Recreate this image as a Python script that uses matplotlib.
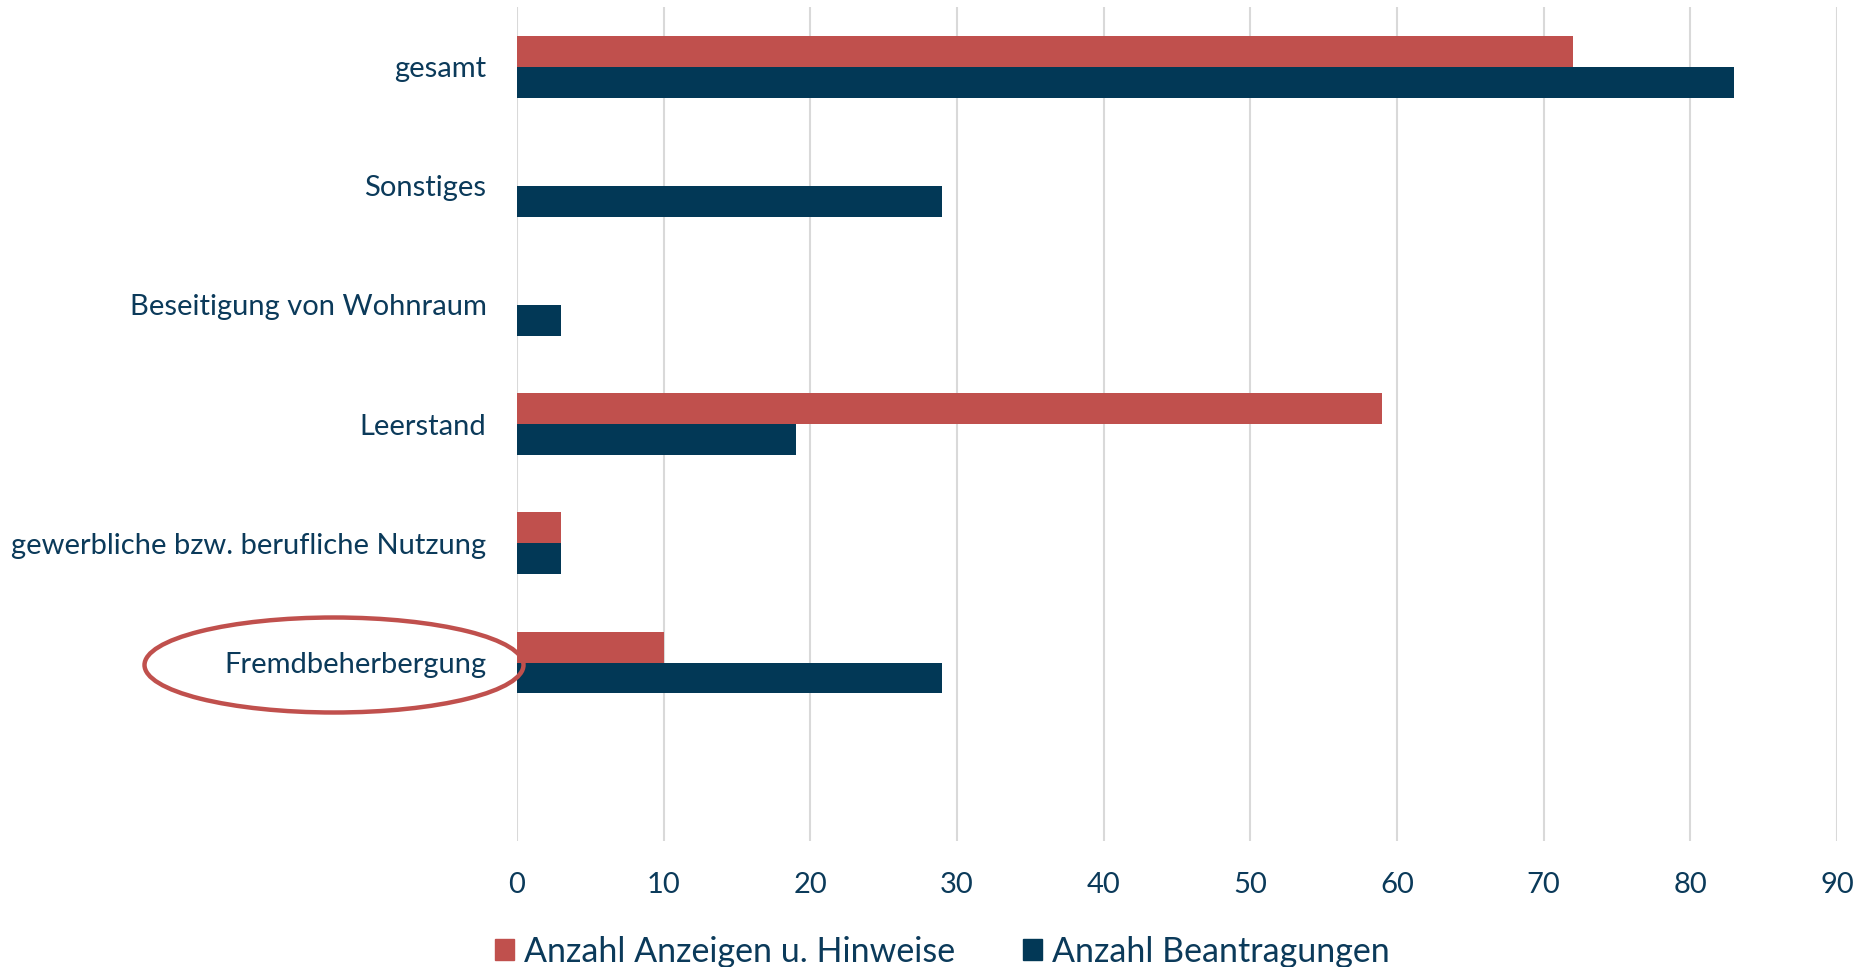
import matplotlib
matplotlib.use("Agg")
import matplotlib.pyplot as plt
from matplotlib.patches import Ellipse, Patch
import numpy as np

categories = ["", "Fremdbeherbergung", "gewerbliche bzw. berufliche Nutzung",
              "Leerstand", "Beseitigung von Wohnraum", "Sonstiges", "gesamt"]
anzeigen = [0, 10, 3, 59, 0, 0, 72]
beantragungen = [0, 29, 3, 19, 3, 29, 83]
series_names = ["Anzahl Anzeigen u. Hinweise", "Anzahl Beantragungen"]
xticks = [0, 10, 20, 30, 40, 50, 60, 70, 80, 90]

RED = "#C0504D"
BLUE = "#023856"
TXT = "#0B3A5A"
GRID = "#D9D9D9"

plt.rcParams['font.family'] = ['Lato', 'DejaVu Sans']

fig = plt.figure(figsize=(18.7, 9.67), dpi=100)
ax = fig.add_axes([0.2765, 0.130, 0.7059, 0.8628])

y = np.arange(len(categories))
h = 0.26
ax.barh(y + h / 2, anzeigen, height=h, color=RED, label=series_names[0], zorder=3)
ax.barh(y - h / 2, beantragungen, height=h, color=BLUE, label=series_names[1], zorder=3)

ax.set_ylim(-0.5, len(categories) - 0.5)
ax.set_xlim(0, 90)
ax.set_xticks(xticks)
ax.set_yticks(y)
ax.set_yticklabels(categories)
ax.xaxis.grid(True, color=GRID, linewidth=1.5, zorder=0)
ax.set_axisbelow(True)
for s in ax.spines.values():
    s.set_visible(False)
ax.tick_params(axis='both', length=0, colors=TXT, labelsize=21)
ax.tick_params(axis='y', pad=22)
ax.tick_params(axis='x', pad=22)

handles = [Patch(color=RED), Patch(color=BLUE)]
fig.legend(handles, series_names, loc='center', bbox_to_anchor=(0.504, 0.016),
           ncol=2, frameon=False, fontsize=24.5, labelcolor=TXT,
           handlelength=0.56, handleheight=0.56, handletextpad=0.3,
           columnspacing=2.0)

ell = Ellipse((334 / 1870, 1 - 665 / 967), 379 / 1870, 95 / 967,
              transform=fig.transFigure, fill=False, edgecolor=RED, linewidth=3.2)
fig.patches.append(ell)

fig.savefig("out.png", dpi=100)
